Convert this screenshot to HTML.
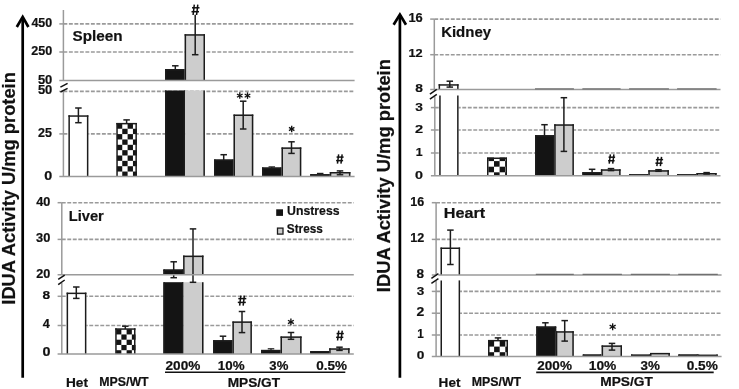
<!DOCTYPE html>
<html><head><meta charset="utf-8"><style>
html,body{margin:0;padding:0;background:#fff;}
body{width:739px;height:389px;overflow:hidden;}
svg{display:block;filter:grayscale(1);}
</style></head><body>
<svg width="739" height="389" viewBox="0 0 739 389">
<rect width="739" height="389" fill="#fff"/>
<line x1="63.40" y1="23.90" x2="354.60" y2="23.90" stroke="#9a9a9a" stroke-width="1.6" stroke-dasharray="3.9 1.6"/>
<line x1="63.40" y1="52.00" x2="354.60" y2="52.00" stroke="#9a9a9a" stroke-width="1.6" stroke-dasharray="3.9 1.6"/>
<line x1="63.40" y1="91.40" x2="354.60" y2="91.40" stroke="#9a9a9a" stroke-width="1.6" stroke-dasharray="3.9 1.6"/>
<line x1="63.40" y1="133.90" x2="354.60" y2="133.90" stroke="#9a9a9a" stroke-width="1.6" stroke-dasharray="3.9 1.6"/>
<line x1="61.80" y1="202.70" x2="353.80" y2="202.70" stroke="#9a9a9a" stroke-width="1.6" stroke-dasharray="3.9 1.6"/>
<line x1="61.80" y1="239.40" x2="353.80" y2="239.40" stroke="#9a9a9a" stroke-width="1.6" stroke-dasharray="3.9 1.6"/>
<line x1="61.80" y1="296.30" x2="353.80" y2="296.30" stroke="#9a9a9a" stroke-width="1.6" stroke-dasharray="3.9 1.6"/>
<line x1="61.80" y1="325.50" x2="353.80" y2="325.50" stroke="#9a9a9a" stroke-width="1.6" stroke-dasharray="3.9 1.6"/>
<line x1="434.30" y1="19.10" x2="720.50" y2="19.10" stroke="#9a9a9a" stroke-width="1.6" stroke-dasharray="3.9 1.6"/>
<line x1="434.30" y1="54.70" x2="720.50" y2="54.70" stroke="#9a9a9a" stroke-width="1.6" stroke-dasharray="3.9 1.6"/>
<line x1="434.80" y1="107.60" x2="720.50" y2="107.60" stroke="#9a9a9a" stroke-width="1.6" stroke-dasharray="3.9 1.6"/>
<line x1="434.80" y1="130.00" x2="720.50" y2="130.00" stroke="#9a9a9a" stroke-width="1.6" stroke-dasharray="3.9 1.6"/>
<line x1="434.80" y1="153.00" x2="720.50" y2="153.00" stroke="#9a9a9a" stroke-width="1.6" stroke-dasharray="3.9 1.6"/>
<line x1="436.10" y1="202.70" x2="721.60" y2="202.70" stroke="#9a9a9a" stroke-width="1.6" stroke-dasharray="3.9 1.6"/>
<line x1="436.10" y1="239.40" x2="721.60" y2="239.40" stroke="#9a9a9a" stroke-width="1.6" stroke-dasharray="3.9 1.6"/>
<line x1="436.10" y1="291.40" x2="721.60" y2="291.40" stroke="#9a9a9a" stroke-width="1.6" stroke-dasharray="3.9 1.6"/>
<line x1="436.10" y1="313.20" x2="721.60" y2="313.20" stroke="#9a9a9a" stroke-width="1.6" stroke-dasharray="3.9 1.6"/>
<line x1="436.10" y1="335.00" x2="721.60" y2="335.00" stroke="#9a9a9a" stroke-width="1.6" stroke-dasharray="3.9 1.6"/>
<rect x="68.40" y="115.30" width="20.00" height="61.20" fill="#fff"/>
<line x1="69.15" y1="176.50" x2="69.15" y2="115.30" stroke="#1c1c1c" stroke-width="1.5" />
<line x1="87.65" y1="176.50" x2="87.65" y2="115.30" stroke="#1c1c1c" stroke-width="1.5" />
<line x1="68.40" y1="116.05" x2="88.40" y2="116.05" stroke="#1c1c1c" stroke-width="1.5" />
<line x1="78.40" y1="108.00" x2="78.40" y2="122.70" stroke="#1c1c1c" stroke-width="1.5" />
<line x1="75.15" y1="108.00" x2="81.65" y2="108.00" stroke="#1c1c1c" stroke-width="1.5" />
<line x1="75.15" y1="122.70" x2="81.65" y2="122.70" stroke="#1c1c1c" stroke-width="1.5" />
<rect x="116.30" y="122.90" width="20.60" height="53.60" fill="#fff"/>
<svg x="116.30" y="122.90" width="20.60" height="53.60" overflow="hidden"><g fill="#141414">
<rect x="0.60" y="0.50" width="5.35" height="5.35"/>
<rect x="11.30" y="0.50" width="5.35" height="5.35"/>
<rect x="5.95" y="5.85" width="5.35" height="5.35"/>
<rect x="16.65" y="5.85" width="5.35" height="5.35"/>
<rect x="0.60" y="11.20" width="5.35" height="5.35"/>
<rect x="11.30" y="11.20" width="5.35" height="5.35"/>
<rect x="5.95" y="16.55" width="5.35" height="5.35"/>
<rect x="16.65" y="16.55" width="5.35" height="5.35"/>
<rect x="0.60" y="21.90" width="5.35" height="5.35"/>
<rect x="11.30" y="21.90" width="5.35" height="5.35"/>
<rect x="5.95" y="27.25" width="5.35" height="5.35"/>
<rect x="16.65" y="27.25" width="5.35" height="5.35"/>
<rect x="0.60" y="32.60" width="5.35" height="5.35"/>
<rect x="11.30" y="32.60" width="5.35" height="5.35"/>
<rect x="5.95" y="37.95" width="5.35" height="5.35"/>
<rect x="16.65" y="37.95" width="5.35" height="5.35"/>
<rect x="0.60" y="43.30" width="5.35" height="5.35"/>
<rect x="11.30" y="43.30" width="5.35" height="5.35"/>
<rect x="5.95" y="48.65" width="5.35" height="5.35"/>
<rect x="16.65" y="48.65" width="5.35" height="5.35"/>
</g></svg>
<line x1="117.05" y1="176.50" x2="117.05" y2="122.90" stroke="#1c1c1c" stroke-width="1.5" />
<line x1="136.15" y1="176.50" x2="136.15" y2="122.90" stroke="#1c1c1c" stroke-width="1.5" />
<line x1="116.30" y1="123.65" x2="136.90" y2="123.65" stroke="#1c1c1c" stroke-width="1.5" />
<line x1="126.60" y1="119.90" x2="126.60" y2="123.50" stroke="#1c1c1c" stroke-width="1.5" />
<line x1="123.35" y1="119.90" x2="129.85" y2="119.90" stroke="#1c1c1c" stroke-width="1.5" />
<rect x="165.00" y="90.50" width="20.10" height="86.00" fill="#141414"/>
<line x1="165.75" y1="176.50" x2="165.75" y2="90.50" stroke="#1c1c1c" stroke-width="1.5" />
<line x1="184.35" y1="176.50" x2="184.35" y2="90.50" stroke="#1c1c1c" stroke-width="1.5" />
<rect x="185.10" y="90.50" width="19.80" height="86.00" fill="#cdcdcf"/>
<line x1="204.15" y1="176.50" x2="204.15" y2="90.50" stroke="#1c1c1c" stroke-width="1.5" />
<rect x="165.00" y="69.00" width="20.20" height="11.50" fill="#141414"/>
<line x1="165.75" y1="80.50" x2="165.75" y2="69.00" stroke="#1c1c1c" stroke-width="1.5" />
<line x1="184.45" y1="80.50" x2="184.45" y2="69.00" stroke="#1c1c1c" stroke-width="1.5" />
<line x1="165.00" y1="69.75" x2="185.20" y2="69.75" stroke="#1c1c1c" stroke-width="1.5" />
<line x1="175.30" y1="65.80" x2="175.30" y2="69.50" stroke="#1c1c1c" stroke-width="1.5" />
<line x1="172.05" y1="65.80" x2="178.55" y2="65.80" stroke="#1c1c1c" stroke-width="1.5" />
<rect x="184.60" y="34.20" width="20.40" height="46.30" fill="#cdcdcf"/>
<line x1="185.35" y1="80.50" x2="185.35" y2="34.20" stroke="#1c1c1c" stroke-width="1.5" />
<line x1="204.25" y1="80.50" x2="204.25" y2="34.20" stroke="#1c1c1c" stroke-width="1.5" />
<line x1="184.60" y1="34.95" x2="205.00" y2="34.95" stroke="#1c1c1c" stroke-width="1.5" />
<line x1="195.20" y1="14.70" x2="195.20" y2="54.70" stroke="#1c1c1c" stroke-width="1.5" />
<line x1="191.95" y1="54.70" x2="198.45" y2="54.70" stroke="#1c1c1c" stroke-width="1.5" />
<line x1="194.30" y1="4.70" x2="193.10" y2="15.00" stroke="#111" stroke-width="1.5" />
<line x1="197.80" y1="4.70" x2="196.60" y2="15.00" stroke="#111" stroke-width="1.5" />
<line x1="192.00" y1="7.79" x2="199.50" y2="7.79" stroke="#111" stroke-width="1.5" />
<line x1="191.50" y1="11.70" x2="199.00" y2="11.70" stroke="#111" stroke-width="1.5" />
<rect x="214.10" y="159.50" width="19.90" height="17.00" fill="#141414"/>
<line x1="214.85" y1="176.50" x2="214.85" y2="159.50" stroke="#1c1c1c" stroke-width="1.5" />
<line x1="233.25" y1="176.50" x2="233.25" y2="159.50" stroke="#1c1c1c" stroke-width="1.5" />
<line x1="214.10" y1="160.25" x2="234.00" y2="160.25" stroke="#1c1c1c" stroke-width="1.5" />
<line x1="223.70" y1="154.70" x2="223.70" y2="160.00" stroke="#1c1c1c" stroke-width="1.5" />
<line x1="220.45" y1="154.70" x2="226.95" y2="154.70" stroke="#1c1c1c" stroke-width="1.5" />
<rect x="233.50" y="114.50" width="19.80" height="62.00" fill="#cdcdcf"/>
<line x1="234.25" y1="176.50" x2="234.25" y2="114.50" stroke="#1c1c1c" stroke-width="1.5" />
<line x1="252.55" y1="176.50" x2="252.55" y2="114.50" stroke="#1c1c1c" stroke-width="1.5" />
<line x1="233.50" y1="115.25" x2="253.30" y2="115.25" stroke="#1c1c1c" stroke-width="1.5" />
<line x1="243.20" y1="101.20" x2="243.20" y2="129.00" stroke="#1c1c1c" stroke-width="1.5" />
<line x1="239.95" y1="101.20" x2="246.45" y2="101.20" stroke="#1c1c1c" stroke-width="1.5" />
<line x1="239.95" y1="129.00" x2="246.45" y2="129.00" stroke="#1c1c1c" stroke-width="1.5" />
<line x1="239.80" y1="92.35" x2="239.80" y2="98.85" stroke="#111" stroke-width="1.35" />
<line x1="236.99" y1="93.98" x2="242.61" y2="97.22" stroke="#111" stroke-width="1.35" />
<line x1="242.61" y1="93.98" x2="236.99" y2="97.22" stroke="#111" stroke-width="1.35" />
<line x1="247.50" y1="92.35" x2="247.50" y2="98.85" stroke="#111" stroke-width="1.35" />
<line x1="244.69" y1="93.98" x2="250.31" y2="97.22" stroke="#111" stroke-width="1.35" />
<line x1="250.31" y1="93.98" x2="244.69" y2="97.22" stroke="#111" stroke-width="1.35" />
<rect x="262.00" y="167.50" width="19.80" height="9.00" fill="#141414"/>
<line x1="262.75" y1="176.50" x2="262.75" y2="167.50" stroke="#1c1c1c" stroke-width="1.5" />
<line x1="281.05" y1="176.50" x2="281.05" y2="167.50" stroke="#1c1c1c" stroke-width="1.5" />
<line x1="262.00" y1="168.25" x2="281.80" y2="168.25" stroke="#1c1c1c" stroke-width="1.5" />
<line x1="271.80" y1="166.90" x2="271.80" y2="168.00" stroke="#1c1c1c" stroke-width="1.2" />
<line x1="268.55" y1="166.90" x2="275.05" y2="166.90" stroke="#1c1c1c" stroke-width="1.2" />
<rect x="281.50" y="147.40" width="19.80" height="29.10" fill="#cdcdcf"/>
<line x1="282.25" y1="176.50" x2="282.25" y2="147.40" stroke="#1c1c1c" stroke-width="1.5" />
<line x1="300.55" y1="176.50" x2="300.55" y2="147.40" stroke="#1c1c1c" stroke-width="1.5" />
<line x1="281.50" y1="148.15" x2="301.30" y2="148.15" stroke="#1c1c1c" stroke-width="1.5" />
<line x1="291.50" y1="141.80" x2="291.50" y2="153.40" stroke="#1c1c1c" stroke-width="1.5" />
<line x1="288.25" y1="141.80" x2="294.75" y2="141.80" stroke="#1c1c1c" stroke-width="1.5" />
<line x1="288.25" y1="153.40" x2="294.75" y2="153.40" stroke="#1c1c1c" stroke-width="1.5" />
<line x1="291.70" y1="125.86" x2="291.70" y2="132.14" stroke="#111" stroke-width="1.35" />
<line x1="288.98" y1="127.43" x2="294.42" y2="130.57" stroke="#111" stroke-width="1.35" />
<line x1="294.42" y1="127.43" x2="288.98" y2="130.57" stroke="#111" stroke-width="1.35" />
<rect x="310.30" y="174.20" width="19.90" height="2.30" fill="#141414"/>
<line x1="311.05" y1="176.50" x2="311.05" y2="174.20" stroke="#1c1c1c" stroke-width="1.5" />
<line x1="329.45" y1="176.50" x2="329.45" y2="174.20" stroke="#1c1c1c" stroke-width="1.5" />
<line x1="310.30" y1="174.95" x2="330.20" y2="174.95" stroke="#1c1c1c" stroke-width="1.5" />
<line x1="320.20" y1="173.40" x2="320.20" y2="174.50" stroke="#1c1c1c" stroke-width="1.2" />
<line x1="316.95" y1="173.40" x2="323.45" y2="173.40" stroke="#1c1c1c" stroke-width="1.2" />
<rect x="329.80" y="172.00" width="20.60" height="4.50" fill="#cdcdcf"/>
<line x1="330.55" y1="176.50" x2="330.55" y2="172.00" stroke="#1c1c1c" stroke-width="1.5" />
<line x1="349.65" y1="176.50" x2="349.65" y2="172.00" stroke="#1c1c1c" stroke-width="1.5" />
<line x1="329.80" y1="172.75" x2="350.40" y2="172.75" stroke="#1c1c1c" stroke-width="1.5" />
<line x1="340.00" y1="170.90" x2="340.00" y2="174.80" stroke="#1c1c1c" stroke-width="1.5" />
<line x1="336.75" y1="170.90" x2="343.25" y2="170.90" stroke="#1c1c1c" stroke-width="1.5" />
<line x1="336.75" y1="174.80" x2="343.25" y2="174.80" stroke="#1c1c1c" stroke-width="1.5" />
<line x1="338.65" y1="154.30" x2="337.45" y2="163.60" stroke="#111" stroke-width="1.5" />
<line x1="342.15" y1="154.30" x2="340.95" y2="163.60" stroke="#111" stroke-width="1.5" />
<line x1="336.60" y1="157.09" x2="343.60" y2="157.09" stroke="#111" stroke-width="1.5" />
<line x1="336.10" y1="160.62" x2="343.10" y2="160.62" stroke="#111" stroke-width="1.5" />
<rect x="66.60" y="292.60" width="19.80" height="61.40" fill="#fff"/>
<line x1="67.35" y1="354.00" x2="67.35" y2="292.60" stroke="#1c1c1c" stroke-width="1.5" />
<line x1="85.65" y1="354.00" x2="85.65" y2="292.60" stroke="#1c1c1c" stroke-width="1.5" />
<line x1="66.60" y1="293.35" x2="86.40" y2="293.35" stroke="#1c1c1c" stroke-width="1.5" />
<line x1="76.30" y1="287.00" x2="76.30" y2="298.40" stroke="#1c1c1c" stroke-width="1.5" />
<line x1="73.05" y1="287.00" x2="79.55" y2="287.00" stroke="#1c1c1c" stroke-width="1.5" />
<line x1="73.05" y1="298.40" x2="79.55" y2="298.40" stroke="#1c1c1c" stroke-width="1.5" />
<rect x="115.20" y="328.30" width="20.30" height="25.70" fill="#fff"/>
<svg x="115.20" y="328.30" width="20.30" height="25.70" overflow="hidden"><g fill="#141414">
<rect x="0.90" y="0.90" width="5.25" height="5.25"/>
<rect x="11.40" y="0.90" width="5.25" height="5.25"/>
<rect x="6.15" y="6.15" width="5.25" height="5.25"/>
<rect x="16.65" y="6.15" width="5.25" height="5.25"/>
<rect x="0.90" y="11.40" width="5.25" height="5.25"/>
<rect x="11.40" y="11.40" width="5.25" height="5.25"/>
<rect x="6.15" y="16.65" width="5.25" height="5.25"/>
<rect x="16.65" y="16.65" width="5.25" height="5.25"/>
<rect x="0.90" y="21.90" width="5.25" height="5.25"/>
<rect x="11.40" y="21.90" width="5.25" height="5.25"/>
</g></svg>
<line x1="115.95" y1="354.00" x2="115.95" y2="328.30" stroke="#1c1c1c" stroke-width="1.5" />
<line x1="134.75" y1="354.00" x2="134.75" y2="328.30" stroke="#1c1c1c" stroke-width="1.5" />
<line x1="115.20" y1="329.05" x2="135.50" y2="329.05" stroke="#1c1c1c" stroke-width="1.5" />
<line x1="125.30" y1="326.20" x2="125.30" y2="329.00" stroke="#1c1c1c" stroke-width="1.5" />
<line x1="122.05" y1="326.20" x2="128.55" y2="326.20" stroke="#1c1c1c" stroke-width="1.5" />
<rect x="163.40" y="282.20" width="20.10" height="71.80" fill="#141414"/>
<line x1="164.15" y1="354.00" x2="164.15" y2="282.20" stroke="#1c1c1c" stroke-width="1.5" />
<line x1="182.75" y1="354.00" x2="182.75" y2="282.20" stroke="#1c1c1c" stroke-width="1.5" />
<rect x="183.50" y="282.20" width="20.00" height="71.80" fill="#cdcdcf"/>
<line x1="202.75" y1="354.00" x2="202.75" y2="282.20" stroke="#1c1c1c" stroke-width="1.5" />
<rect x="163.40" y="269.50" width="20.20" height="5.30" fill="#141414"/>
<line x1="164.15" y1="274.80" x2="164.15" y2="269.50" stroke="#1c1c1c" stroke-width="1.5" />
<line x1="182.85" y1="274.80" x2="182.85" y2="269.50" stroke="#1c1c1c" stroke-width="1.5" />
<line x1="163.40" y1="270.25" x2="183.60" y2="270.25" stroke="#1c1c1c" stroke-width="1.5" />
<line x1="173.70" y1="261.80" x2="173.70" y2="277.70" stroke="#1c1c1c" stroke-width="1.5" />
<line x1="170.45" y1="261.80" x2="176.95" y2="261.80" stroke="#1c1c1c" stroke-width="1.5" />
<line x1="170.45" y1="277.70" x2="176.95" y2="277.70" stroke="#1c1c1c" stroke-width="1.5" />
<rect x="183.10" y="255.60" width="20.40" height="19.20" fill="#cdcdcf"/>
<line x1="183.85" y1="274.80" x2="183.85" y2="255.60" stroke="#1c1c1c" stroke-width="1.5" />
<line x1="202.75" y1="274.80" x2="202.75" y2="255.60" stroke="#1c1c1c" stroke-width="1.5" />
<line x1="183.10" y1="256.35" x2="203.50" y2="256.35" stroke="#1c1c1c" stroke-width="1.5" />
<line x1="193.00" y1="228.90" x2="193.00" y2="282.30" stroke="#1c1c1c" stroke-width="1.5" />
<line x1="189.75" y1="228.90" x2="196.25" y2="228.90" stroke="#1c1c1c" stroke-width="1.5" />
<line x1="189.75" y1="282.30" x2="196.25" y2="282.30" stroke="#1c1c1c" stroke-width="1.5" />
<rect x="213.10" y="340.20" width="19.70" height="13.80" fill="#141414"/>
<line x1="213.85" y1="354.00" x2="213.85" y2="340.20" stroke="#1c1c1c" stroke-width="1.5" />
<line x1="232.05" y1="354.00" x2="232.05" y2="340.20" stroke="#1c1c1c" stroke-width="1.5" />
<line x1="213.10" y1="340.95" x2="232.80" y2="340.95" stroke="#1c1c1c" stroke-width="1.5" />
<line x1="223.00" y1="336.20" x2="223.00" y2="341.00" stroke="#1c1c1c" stroke-width="1.5" />
<line x1="219.75" y1="336.20" x2="226.25" y2="336.20" stroke="#1c1c1c" stroke-width="1.5" />
<rect x="232.40" y="321.40" width="19.50" height="32.60" fill="#cdcdcf"/>
<line x1="233.15" y1="354.00" x2="233.15" y2="321.40" stroke="#1c1c1c" stroke-width="1.5" />
<line x1="251.15" y1="354.00" x2="251.15" y2="321.40" stroke="#1c1c1c" stroke-width="1.5" />
<line x1="232.40" y1="322.15" x2="251.90" y2="322.15" stroke="#1c1c1c" stroke-width="1.5" />
<line x1="242.00" y1="311.50" x2="242.00" y2="332.60" stroke="#1c1c1c" stroke-width="1.5" />
<line x1="238.75" y1="311.50" x2="245.25" y2="311.50" stroke="#1c1c1c" stroke-width="1.5" />
<line x1="238.75" y1="332.60" x2="245.25" y2="332.60" stroke="#1c1c1c" stroke-width="1.5" />
<line x1="240.85" y1="295.60" x2="239.65" y2="305.60" stroke="#111" stroke-width="1.5" />
<line x1="244.35" y1="295.60" x2="243.15" y2="305.60" stroke="#111" stroke-width="1.5" />
<line x1="238.30" y1="298.60" x2="246.30" y2="298.60" stroke="#111" stroke-width="1.5" />
<line x1="237.80" y1="302.40" x2="245.80" y2="302.40" stroke="#111" stroke-width="1.5" />
<rect x="261.00" y="349.90" width="19.90" height="4.10" fill="#141414"/>
<line x1="261.75" y1="354.00" x2="261.75" y2="349.90" stroke="#1c1c1c" stroke-width="1.5" />
<line x1="280.15" y1="354.00" x2="280.15" y2="349.90" stroke="#1c1c1c" stroke-width="1.5" />
<line x1="261.00" y1="350.65" x2="280.90" y2="350.65" stroke="#1c1c1c" stroke-width="1.5" />
<line x1="271.00" y1="348.80" x2="271.00" y2="350.20" stroke="#1c1c1c" stroke-width="1.2" />
<line x1="267.75" y1="348.80" x2="274.25" y2="348.80" stroke="#1c1c1c" stroke-width="1.2" />
<rect x="280.50" y="336.40" width="21.10" height="17.60" fill="#cdcdcf"/>
<line x1="281.25" y1="354.00" x2="281.25" y2="336.40" stroke="#1c1c1c" stroke-width="1.5" />
<line x1="300.85" y1="354.00" x2="300.85" y2="336.40" stroke="#1c1c1c" stroke-width="1.5" />
<line x1="280.50" y1="337.15" x2="301.60" y2="337.15" stroke="#1c1c1c" stroke-width="1.5" />
<line x1="291.00" y1="332.50" x2="291.00" y2="339.30" stroke="#1c1c1c" stroke-width="1.5" />
<line x1="287.75" y1="332.50" x2="294.25" y2="332.50" stroke="#1c1c1c" stroke-width="1.5" />
<line x1="287.75" y1="339.30" x2="294.25" y2="339.30" stroke="#1c1c1c" stroke-width="1.5" />
<line x1="290.90" y1="318.54" x2="290.90" y2="325.26" stroke="#111" stroke-width="1.35" />
<line x1="287.99" y1="320.22" x2="293.81" y2="323.58" stroke="#111" stroke-width="1.35" />
<line x1="293.81" y1="320.22" x2="287.99" y2="323.58" stroke="#111" stroke-width="1.35" />
<rect x="310.30" y="351.10" width="19.30" height="2.90" fill="#141414"/>
<line x1="311.05" y1="354.00" x2="311.05" y2="351.10" stroke="#1c1c1c" stroke-width="1.5" />
<line x1="328.85" y1="354.00" x2="328.85" y2="351.10" stroke="#1c1c1c" stroke-width="1.5" />
<line x1="310.30" y1="351.85" x2="329.60" y2="351.85" stroke="#1c1c1c" stroke-width="1.5" />
<rect x="329.20" y="348.30" width="20.40" height="5.70" fill="#cdcdcf"/>
<line x1="329.95" y1="354.00" x2="329.95" y2="348.30" stroke="#1c1c1c" stroke-width="1.5" />
<line x1="348.85" y1="354.00" x2="348.85" y2="348.30" stroke="#1c1c1c" stroke-width="1.5" />
<line x1="329.20" y1="349.05" x2="349.60" y2="349.05" stroke="#1c1c1c" stroke-width="1.5" />
<line x1="339.50" y1="347.20" x2="339.50" y2="350.40" stroke="#1c1c1c" stroke-width="1.5" />
<line x1="336.25" y1="347.20" x2="342.75" y2="347.20" stroke="#1c1c1c" stroke-width="1.5" />
<line x1="336.25" y1="350.40" x2="342.75" y2="350.40" stroke="#1c1c1c" stroke-width="1.5" />
<line x1="338.75" y1="330.60" x2="337.55" y2="340.50" stroke="#111" stroke-width="1.5" />
<line x1="342.25" y1="330.60" x2="341.05" y2="340.50" stroke="#111" stroke-width="1.5" />
<line x1="336.60" y1="333.57" x2="343.80" y2="333.57" stroke="#111" stroke-width="1.5" />
<line x1="336.10" y1="337.33" x2="343.30" y2="337.33" stroke="#111" stroke-width="1.5" />
<rect x="276.2" y="209.3" width="6.8" height="6.6" fill="#141414"/>
<rect x="277.5" y="228.1" width="5.5" height="6.0" fill="#cdcdcf" stroke="#1c1c1c" stroke-width="1.3"/>
<line x1="165.00" y1="372.30" x2="345.30" y2="372.30" stroke="#111" stroke-width="1.6" />
<rect x="438.60" y="84.20" width="20.00" height="5.40" fill="#fff"/>
<line x1="439.35" y1="89.60" x2="439.35" y2="84.20" stroke="#1c1c1c" stroke-width="1.5" />
<line x1="457.85" y1="89.60" x2="457.85" y2="84.20" stroke="#1c1c1c" stroke-width="1.5" />
<line x1="438.60" y1="84.95" x2="458.60" y2="84.95" stroke="#1c1c1c" stroke-width="1.5" />
<line x1="449.80" y1="81.20" x2="449.80" y2="87.10" stroke="#1c1c1c" stroke-width="1.5" />
<line x1="446.55" y1="81.20" x2="453.05" y2="81.20" stroke="#1c1c1c" stroke-width="1.5" />
<line x1="446.55" y1="87.10" x2="453.05" y2="87.10" stroke="#1c1c1c" stroke-width="1.5" />
<rect x="439.20" y="95.40" width="19.40" height="80.40" fill="#fff"/>
<line x1="439.95" y1="175.80" x2="439.95" y2="95.40" stroke="#1c1c1c" stroke-width="1.5" />
<line x1="457.85" y1="175.80" x2="457.85" y2="95.40" stroke="#1c1c1c" stroke-width="1.5" />
<rect x="487.00" y="157.50" width="20.00" height="18.30" fill="#fff"/>
<svg x="487.00" y="157.50" width="20.00" height="18.30" overflow="hidden"><g fill="#141414">
<rect x="1.40" y="-2.00" width="5.60" height="5.60"/>
<rect x="12.60" y="-2.00" width="5.60" height="5.60"/>
<rect x="7.00" y="3.60" width="5.60" height="5.60"/>
<rect x="18.20" y="3.60" width="5.60" height="5.60"/>
<rect x="1.40" y="9.20" width="5.60" height="5.60"/>
<rect x="12.60" y="9.20" width="5.60" height="5.60"/>
<rect x="7.00" y="14.80" width="5.60" height="5.60"/>
<rect x="18.20" y="14.80" width="5.60" height="5.60"/>
</g></svg>
<line x1="487.75" y1="175.80" x2="487.75" y2="157.50" stroke="#1c1c1c" stroke-width="1.5" />
<line x1="506.25" y1="175.80" x2="506.25" y2="157.50" stroke="#1c1c1c" stroke-width="1.5" />
<line x1="487.00" y1="158.25" x2="507.00" y2="158.25" stroke="#1c1c1c" stroke-width="1.5" />
<rect x="535.00" y="135.20" width="19.70" height="40.60" fill="#141414"/>
<line x1="535.75" y1="175.80" x2="535.75" y2="135.20" stroke="#1c1c1c" stroke-width="1.5" />
<line x1="553.95" y1="175.80" x2="553.95" y2="135.20" stroke="#1c1c1c" stroke-width="1.5" />
<line x1="535.00" y1="135.95" x2="554.70" y2="135.95" stroke="#1c1c1c" stroke-width="1.5" />
<line x1="544.50" y1="124.70" x2="544.50" y2="136.00" stroke="#1c1c1c" stroke-width="1.5" />
<line x1="541.25" y1="124.70" x2="547.75" y2="124.70" stroke="#1c1c1c" stroke-width="1.5" />
<rect x="554.20" y="124.30" width="19.70" height="51.50" fill="#cdcdcf"/>
<line x1="554.95" y1="175.80" x2="554.95" y2="124.30" stroke="#1c1c1c" stroke-width="1.5" />
<line x1="573.15" y1="175.80" x2="573.15" y2="124.30" stroke="#1c1c1c" stroke-width="1.5" />
<line x1="554.20" y1="125.05" x2="573.90" y2="125.05" stroke="#1c1c1c" stroke-width="1.5" />
<line x1="563.90" y1="97.70" x2="563.90" y2="151.40" stroke="#1c1c1c" stroke-width="1.5" />
<line x1="560.65" y1="97.70" x2="567.15" y2="97.70" stroke="#1c1c1c" stroke-width="1.5" />
<line x1="560.65" y1="151.40" x2="567.15" y2="151.40" stroke="#1c1c1c" stroke-width="1.5" />
<rect x="582.40" y="172.20" width="18.90" height="3.60" fill="#141414"/>
<line x1="583.15" y1="175.80" x2="583.15" y2="172.20" stroke="#1c1c1c" stroke-width="1.5" />
<line x1="600.55" y1="175.80" x2="600.55" y2="172.20" stroke="#1c1c1c" stroke-width="1.5" />
<line x1="582.40" y1="172.95" x2="601.30" y2="172.95" stroke="#1c1c1c" stroke-width="1.5" />
<line x1="592.10" y1="169.30" x2="592.10" y2="172.50" stroke="#1c1c1c" stroke-width="1.5" />
<line x1="588.85" y1="169.30" x2="595.35" y2="169.30" stroke="#1c1c1c" stroke-width="1.5" />
<rect x="600.90" y="169.30" width="19.70" height="6.50" fill="#cdcdcf"/>
<line x1="601.65" y1="175.80" x2="601.65" y2="169.30" stroke="#1c1c1c" stroke-width="1.5" />
<line x1="619.85" y1="175.80" x2="619.85" y2="169.30" stroke="#1c1c1c" stroke-width="1.5" />
<line x1="600.90" y1="170.05" x2="620.60" y2="170.05" stroke="#1c1c1c" stroke-width="1.5" />
<line x1="611.00" y1="168.60" x2="611.00" y2="170.60" stroke="#1c1c1c" stroke-width="1.5" />
<line x1="607.75" y1="168.60" x2="614.25" y2="168.60" stroke="#1c1c1c" stroke-width="1.5" />
<line x1="607.75" y1="170.60" x2="614.25" y2="170.60" stroke="#1c1c1c" stroke-width="1.5" />
<line x1="610.40" y1="154.40" x2="609.20" y2="163.70" stroke="#111" stroke-width="1.5" />
<line x1="613.90" y1="154.40" x2="612.70" y2="163.70" stroke="#111" stroke-width="1.5" />
<line x1="608.60" y1="157.19" x2="615.10" y2="157.19" stroke="#111" stroke-width="1.5" />
<line x1="608.10" y1="160.72" x2="614.60" y2="160.72" stroke="#111" stroke-width="1.5" />
<rect x="629.10" y="174.30" width="19.60" height="1.50" fill="#141414"/>
<line x1="629.85" y1="175.80" x2="629.85" y2="174.30" stroke="#1c1c1c" stroke-width="1.5" />
<line x1="647.95" y1="175.80" x2="647.95" y2="174.30" stroke="#1c1c1c" stroke-width="1.5" />
<line x1="629.10" y1="175.05" x2="648.70" y2="175.05" stroke="#1c1c1c" stroke-width="1.5" />
<rect x="648.30" y="170.20" width="20.60" height="5.60" fill="#cdcdcf"/>
<line x1="649.05" y1="175.80" x2="649.05" y2="170.20" stroke="#1c1c1c" stroke-width="1.5" />
<line x1="668.15" y1="175.80" x2="668.15" y2="170.20" stroke="#1c1c1c" stroke-width="1.5" />
<line x1="648.30" y1="170.95" x2="668.90" y2="170.95" stroke="#1c1c1c" stroke-width="1.5" />
<line x1="658.50" y1="169.70" x2="658.50" y2="171.30" stroke="#1c1c1c" stroke-width="1.5" />
<line x1="655.25" y1="169.70" x2="661.75" y2="169.70" stroke="#1c1c1c" stroke-width="1.5" />
<line x1="655.25" y1="171.30" x2="661.75" y2="171.30" stroke="#1c1c1c" stroke-width="1.5" />
<line x1="658.05" y1="156.80" x2="656.85" y2="166.20" stroke="#111" stroke-width="1.5" />
<line x1="661.55" y1="156.80" x2="660.35" y2="166.20" stroke="#111" stroke-width="1.5" />
<line x1="655.90" y1="159.62" x2="663.10" y2="159.62" stroke="#111" stroke-width="1.5" />
<line x1="655.40" y1="163.19" x2="662.60" y2="163.19" stroke="#111" stroke-width="1.5" />
<rect x="677.10" y="174.30" width="19.80" height="1.50" fill="#141414"/>
<line x1="677.85" y1="175.80" x2="677.85" y2="174.30" stroke="#1c1c1c" stroke-width="1.5" />
<line x1="696.15" y1="175.80" x2="696.15" y2="174.30" stroke="#1c1c1c" stroke-width="1.5" />
<line x1="677.10" y1="175.05" x2="696.90" y2="175.05" stroke="#1c1c1c" stroke-width="1.5" />
<rect x="696.50" y="173.00" width="20.10" height="2.80" fill="#cdcdcf"/>
<line x1="697.25" y1="175.80" x2="697.25" y2="173.00" stroke="#1c1c1c" stroke-width="1.5" />
<line x1="715.85" y1="175.80" x2="715.85" y2="173.00" stroke="#1c1c1c" stroke-width="1.5" />
<line x1="696.50" y1="173.75" x2="716.60" y2="173.75" stroke="#1c1c1c" stroke-width="1.5" />
<line x1="706.60" y1="172.60" x2="706.60" y2="174.00" stroke="#1c1c1c" stroke-width="1.5" />
<line x1="703.35" y1="172.60" x2="709.85" y2="172.60" stroke="#1c1c1c" stroke-width="1.5" />
<line x1="703.35" y1="174.00" x2="709.85" y2="174.00" stroke="#1c1c1c" stroke-width="1.5" />
<rect x="440.50" y="247.50" width="19.60" height="27.50" fill="#fff"/>
<line x1="441.25" y1="275.00" x2="441.25" y2="247.50" stroke="#1c1c1c" stroke-width="1.5" />
<line x1="459.35" y1="275.00" x2="459.35" y2="247.50" stroke="#1c1c1c" stroke-width="1.5" />
<line x1="440.50" y1="248.25" x2="460.10" y2="248.25" stroke="#1c1c1c" stroke-width="1.5" />
<line x1="450.40" y1="230.10" x2="450.40" y2="264.50" stroke="#1c1c1c" stroke-width="1.5" />
<line x1="447.15" y1="230.10" x2="453.65" y2="230.10" stroke="#1c1c1c" stroke-width="1.5" />
<line x1="447.15" y1="264.50" x2="453.65" y2="264.50" stroke="#1c1c1c" stroke-width="1.5" />
<rect x="440.50" y="280.40" width="19.60" height="76.10" fill="#fff"/>
<line x1="441.25" y1="356.50" x2="441.25" y2="280.40" stroke="#1c1c1c" stroke-width="1.5" />
<line x1="459.35" y1="356.50" x2="459.35" y2="280.40" stroke="#1c1c1c" stroke-width="1.5" />
<rect x="488.00" y="339.90" width="20.00" height="16.60" fill="#fff"/>
<svg x="488.00" y="339.90" width="20.00" height="16.60" overflow="hidden"><g fill="#141414">
<rect x="0.50" y="1.10" width="5.60" height="5.60"/>
<rect x="11.70" y="1.10" width="5.60" height="5.60"/>
<rect x="6.10" y="6.70" width="5.60" height="5.60"/>
<rect x="17.30" y="6.70" width="5.60" height="5.60"/>
<rect x="0.50" y="12.30" width="5.60" height="5.60"/>
<rect x="11.70" y="12.30" width="5.60" height="5.60"/>
</g></svg>
<line x1="488.75" y1="356.50" x2="488.75" y2="339.90" stroke="#1c1c1c" stroke-width="1.5" />
<line x1="507.25" y1="356.50" x2="507.25" y2="339.90" stroke="#1c1c1c" stroke-width="1.5" />
<line x1="488.00" y1="340.65" x2="508.00" y2="340.65" stroke="#1c1c1c" stroke-width="1.5" />
<line x1="498.00" y1="337.90" x2="498.00" y2="340.50" stroke="#1c1c1c" stroke-width="1.5" />
<line x1="494.75" y1="337.90" x2="501.25" y2="337.90" stroke="#1c1c1c" stroke-width="1.5" />
<rect x="536.30" y="326.50" width="19.90" height="30.00" fill="#141414"/>
<line x1="537.05" y1="356.50" x2="537.05" y2="326.50" stroke="#1c1c1c" stroke-width="1.5" />
<line x1="555.45" y1="356.50" x2="555.45" y2="326.50" stroke="#1c1c1c" stroke-width="1.5" />
<line x1="536.30" y1="327.25" x2="556.20" y2="327.25" stroke="#1c1c1c" stroke-width="1.5" />
<line x1="545.40" y1="322.80" x2="545.40" y2="327.00" stroke="#1c1c1c" stroke-width="1.5" />
<line x1="542.15" y1="322.80" x2="548.65" y2="322.80" stroke="#1c1c1c" stroke-width="1.5" />
<rect x="555.80" y="331.20" width="18.00" height="25.30" fill="#cdcdcf"/>
<line x1="556.55" y1="356.50" x2="556.55" y2="331.20" stroke="#1c1c1c" stroke-width="1.5" />
<line x1="573.05" y1="356.50" x2="573.05" y2="331.20" stroke="#1c1c1c" stroke-width="1.5" />
<line x1="555.80" y1="331.95" x2="573.80" y2="331.95" stroke="#1c1c1c" stroke-width="1.5" />
<line x1="564.70" y1="320.60" x2="564.70" y2="341.10" stroke="#1c1c1c" stroke-width="1.5" />
<line x1="561.45" y1="320.60" x2="567.95" y2="320.60" stroke="#1c1c1c" stroke-width="1.5" />
<line x1="561.45" y1="341.10" x2="567.95" y2="341.10" stroke="#1c1c1c" stroke-width="1.5" />
<rect x="582.80" y="354.50" width="18.60" height="2.00" fill="#141414"/>
<line x1="583.55" y1="356.50" x2="583.55" y2="354.50" stroke="#1c1c1c" stroke-width="1.5" />
<line x1="600.65" y1="356.50" x2="600.65" y2="354.50" stroke="#1c1c1c" stroke-width="1.5" />
<line x1="582.80" y1="355.25" x2="601.40" y2="355.25" stroke="#1c1c1c" stroke-width="1.5" />
<rect x="601.60" y="345.40" width="20.40" height="11.10" fill="#cdcdcf"/>
<line x1="602.35" y1="356.50" x2="602.35" y2="345.40" stroke="#1c1c1c" stroke-width="1.5" />
<line x1="621.25" y1="356.50" x2="621.25" y2="345.40" stroke="#1c1c1c" stroke-width="1.5" />
<line x1="601.60" y1="346.15" x2="622.00" y2="346.15" stroke="#1c1c1c" stroke-width="1.5" />
<line x1="612.00" y1="343.40" x2="612.00" y2="350.10" stroke="#1c1c1c" stroke-width="1.5" />
<line x1="608.75" y1="343.40" x2="615.25" y2="343.40" stroke="#1c1c1c" stroke-width="1.5" />
<line x1="608.75" y1="350.10" x2="615.25" y2="350.10" stroke="#1c1c1c" stroke-width="1.5" />
<line x1="612.65" y1="323.33" x2="612.65" y2="330.27" stroke="#111" stroke-width="1.35" />
<line x1="609.64" y1="325.06" x2="615.66" y2="328.54" stroke="#111" stroke-width="1.35" />
<line x1="615.66" y1="325.06" x2="609.64" y2="328.54" stroke="#111" stroke-width="1.35" />
<rect x="631.00" y="354.60" width="19.40" height="1.90" fill="#141414"/>
<line x1="631.75" y1="356.50" x2="631.75" y2="354.60" stroke="#1c1c1c" stroke-width="1.5" />
<line x1="649.65" y1="356.50" x2="649.65" y2="354.60" stroke="#1c1c1c" stroke-width="1.5" />
<line x1="631.00" y1="355.35" x2="650.40" y2="355.35" stroke="#1c1c1c" stroke-width="1.5" />
<rect x="650.00" y="352.90" width="19.90" height="3.60" fill="#cdcdcf"/>
<line x1="650.75" y1="356.50" x2="650.75" y2="352.90" stroke="#1c1c1c" stroke-width="1.5" />
<line x1="669.15" y1="356.50" x2="669.15" y2="352.90" stroke="#1c1c1c" stroke-width="1.5" />
<line x1="650.00" y1="353.65" x2="669.90" y2="353.65" stroke="#1c1c1c" stroke-width="1.5" />
<rect x="678.40" y="354.50" width="19.80" height="2.00" fill="#141414"/>
<line x1="679.15" y1="356.50" x2="679.15" y2="354.50" stroke="#1c1c1c" stroke-width="1.5" />
<line x1="697.45" y1="356.50" x2="697.45" y2="354.50" stroke="#1c1c1c" stroke-width="1.5" />
<line x1="678.40" y1="355.25" x2="698.20" y2="355.25" stroke="#1c1c1c" stroke-width="1.5" />
<rect x="697.80" y="354.60" width="20.00" height="1.90" fill="#cdcdcf"/>
<line x1="698.55" y1="356.50" x2="698.55" y2="354.60" stroke="#1c1c1c" stroke-width="1.5" />
<line x1="717.05" y1="356.50" x2="717.05" y2="354.60" stroke="#1c1c1c" stroke-width="1.5" />
<line x1="697.80" y1="355.35" x2="717.80" y2="355.35" stroke="#1c1c1c" stroke-width="1.5" />
<line x1="536.20" y1="372.40" x2="713.70" y2="372.40" stroke="#111" stroke-width="1.6" />
<line x1="63.40" y1="10.00" x2="63.40" y2="80.50" stroke="#9a9a9a" stroke-width="1.5" />
<line x1="59.30" y1="23.90" x2="63.40" y2="23.90" stroke="#9a9a9a" stroke-width="1.5" />
<line x1="59.30" y1="52.00" x2="63.40" y2="52.00" stroke="#9a9a9a" stroke-width="1.5" />
<line x1="59.30" y1="80.50" x2="354.60" y2="80.50" stroke="#9a9a9a" stroke-width="1.5" />
<line x1="63.40" y1="91.60" x2="63.40" y2="176.50" stroke="#9a9a9a" stroke-width="1.5" />
<line x1="59.30" y1="91.40" x2="63.40" y2="91.40" stroke="#9a9a9a" stroke-width="1.5" />
<line x1="59.30" y1="133.90" x2="63.40" y2="133.90" stroke="#9a9a9a" stroke-width="1.5" />
<line x1="59.30" y1="176.50" x2="354.60" y2="176.50" stroke="#9a9a9a" stroke-width="1.5" />
<line x1="61.80" y1="202.70" x2="61.80" y2="274.80" stroke="#9a9a9a" stroke-width="1.5" />
<line x1="57.60" y1="202.70" x2="61.80" y2="202.70" stroke="#9a9a9a" stroke-width="1.5" />
<line x1="57.60" y1="239.40" x2="61.80" y2="239.40" stroke="#9a9a9a" stroke-width="1.5" />
<line x1="57.60" y1="274.80" x2="353.80" y2="274.80" stroke="#9a9a9a" stroke-width="1.5" />
<line x1="61.80" y1="283.00" x2="61.80" y2="354.00" stroke="#9a9a9a" stroke-width="1.5" />
<line x1="57.60" y1="296.30" x2="61.80" y2="296.30" stroke="#9a9a9a" stroke-width="1.5" />
<line x1="57.60" y1="325.50" x2="61.80" y2="325.50" stroke="#9a9a9a" stroke-width="1.5" />
<line x1="57.60" y1="354.00" x2="353.80" y2="354.00" stroke="#9a9a9a" stroke-width="1.5" />
<line x1="434.30" y1="19.10" x2="434.30" y2="89.60" stroke="#9a9a9a" stroke-width="1.5" />
<line x1="430.20" y1="19.10" x2="434.30" y2="19.10" stroke="#9a9a9a" stroke-width="1.5" />
<line x1="430.20" y1="54.70" x2="434.30" y2="54.70" stroke="#9a9a9a" stroke-width="1.5" />
<line x1="430.20" y1="89.60" x2="720.50" y2="89.60" stroke="#9a9a9a" stroke-width="1.5" />
<line x1="434.80" y1="96.50" x2="434.80" y2="175.80" stroke="#9a9a9a" stroke-width="1.5" />
<line x1="430.90" y1="107.60" x2="434.80" y2="107.60" stroke="#9a9a9a" stroke-width="1.5" />
<line x1="430.90" y1="130.00" x2="434.80" y2="130.00" stroke="#9a9a9a" stroke-width="1.5" />
<line x1="430.90" y1="153.00" x2="434.80" y2="153.00" stroke="#9a9a9a" stroke-width="1.5" />
<line x1="430.90" y1="175.80" x2="720.50" y2="175.80" stroke="#9a9a9a" stroke-width="1.5" />
<line x1="535.00" y1="88.90" x2="573.90" y2="88.90" stroke="#707070" stroke-width="1.2" />
<line x1="582.40" y1="88.90" x2="620.60" y2="88.90" stroke="#707070" stroke-width="1.2" />
<line x1="629.10" y1="88.90" x2="668.90" y2="88.90" stroke="#707070" stroke-width="1.2" />
<line x1="677.10" y1="88.90" x2="716.60" y2="88.90" stroke="#707070" stroke-width="1.2" />
<line x1="436.10" y1="202.70" x2="436.10" y2="275.00" stroke="#9a9a9a" stroke-width="1.5" />
<line x1="431.80" y1="202.70" x2="436.10" y2="202.70" stroke="#9a9a9a" stroke-width="1.5" />
<line x1="431.80" y1="239.40" x2="436.10" y2="239.40" stroke="#9a9a9a" stroke-width="1.5" />
<line x1="431.80" y1="275.00" x2="721.60" y2="275.00" stroke="#9a9a9a" stroke-width="1.5" />
<line x1="436.10" y1="281.00" x2="436.10" y2="356.50" stroke="#9a9a9a" stroke-width="1.5" />
<line x1="431.80" y1="291.40" x2="436.10" y2="291.40" stroke="#9a9a9a" stroke-width="1.5" />
<line x1="431.80" y1="313.20" x2="436.10" y2="313.20" stroke="#9a9a9a" stroke-width="1.5" />
<line x1="431.80" y1="335.00" x2="436.10" y2="335.00" stroke="#9a9a9a" stroke-width="1.5" />
<line x1="431.80" y1="356.50" x2="721.60" y2="356.50" stroke="#9a9a9a" stroke-width="1.5" />
<line x1="535.80" y1="274.40" x2="573.80" y2="274.40" stroke="#707070" stroke-width="1.2" />
<line x1="582.60" y1="274.40" x2="621.90" y2="274.40" stroke="#707070" stroke-width="1.2" />
<line x1="630.80" y1="274.40" x2="669.90" y2="274.40" stroke="#707070" stroke-width="1.2" />
<line x1="678.20" y1="274.40" x2="717.80" y2="274.40" stroke="#707070" stroke-width="1.2" />
<polyline points="16.80,27.00 22.70,16.90 28.40,27.00" fill="none" stroke="#000" stroke-width="2.7" stroke-linejoin="miter" stroke-miterlimit="10"/>
<line x1="22.70" y1="17.40" x2="22.70" y2="377.70" stroke="#000" stroke-width="2.7" />
<text transform="translate(15.20,303.50) rotate(-90)" x="-1.19" y="0" font-family="Liberation Sans" font-weight="bold" font-size="18.07" textLength="232.58" lengthAdjust="spacingAndGlyphs" fill="#111" stroke="#111" stroke-width="0.2">IDUA Activity U/mg protein</text>
<text x="31.41" y="27.00" font-family="Liberation Sans" font-weight="bold" font-size="12.14" textLength="20.73" lengthAdjust="spacingAndGlyphs" fill="#111" stroke="#111" stroke-width="0.2">450</text>
<text x="31.16" y="54.90" font-family="Liberation Sans" font-weight="bold" font-size="12.14" textLength="20.99" lengthAdjust="spacingAndGlyphs" fill="#111" stroke="#111" stroke-width="0.2">250</text>
<text x="37.91" y="83.50" font-family="Liberation Sans" font-weight="bold" font-size="11.86" textLength="14.44" lengthAdjust="spacingAndGlyphs" fill="#111" stroke="#111" stroke-width="0.2">50</text>
<text x="37.91" y="93.80" font-family="Liberation Sans" font-weight="bold" font-size="11.86" textLength="14.44" lengthAdjust="spacingAndGlyphs" fill="#111" stroke="#111" stroke-width="0.2">50</text>
<text x="38.06" y="137.40" font-family="Liberation Sans" font-weight="bold" font-size="12.00" textLength="13.88" lengthAdjust="spacingAndGlyphs" fill="#111" stroke="#111" stroke-width="0.2">25</text>
<text x="44.23" y="179.90" font-family="Liberation Sans" font-weight="bold" font-size="11.86" textLength="7.96" lengthAdjust="spacingAndGlyphs" fill="#111" stroke="#111" stroke-width="0.2">0</text>
<text x="72.54" y="40.50" font-family="Liberation Sans" font-weight="bold" font-size="15.03" textLength="49.95" lengthAdjust="spacingAndGlyphs" fill="#111" stroke="#111" stroke-width="0.2">Spleen</text>
<text x="36.21" y="206.00" font-family="Liberation Sans" font-weight="bold" font-size="11.86" textLength="14.13" lengthAdjust="spacingAndGlyphs" fill="#111" stroke="#111" stroke-width="0.2">40</text>
<text x="36.08" y="241.80" font-family="Liberation Sans" font-weight="bold" font-size="12.00" textLength="14.26" lengthAdjust="spacingAndGlyphs" fill="#111" stroke="#111" stroke-width="0.2">30</text>
<text x="36.26" y="277.80" font-family="Liberation Sans" font-weight="bold" font-size="12.00" textLength="14.08" lengthAdjust="spacingAndGlyphs" fill="#111" stroke="#111" stroke-width="0.2">20</text>
<text x="42.59" y="299.40" font-family="Liberation Sans" font-weight="bold" font-size="11.71" textLength="7.64" lengthAdjust="spacingAndGlyphs" fill="#111" stroke="#111" stroke-width="0.2">8</text>
<text x="42.81" y="328.10" font-family="Liberation Sans" font-weight="bold" font-size="12.61" textLength="7.07" lengthAdjust="spacingAndGlyphs" fill="#111" stroke="#111" stroke-width="0.2">4</text>
<text x="42.43" y="356.40" font-family="Liberation Sans" font-weight="bold" font-size="12.14" textLength="7.96" lengthAdjust="spacingAndGlyphs" fill="#111" stroke="#111" stroke-width="0.2">0</text>
<text x="68.75" y="221.20" font-family="Liberation Sans" font-weight="bold" font-size="15.45" textLength="35.08" lengthAdjust="spacingAndGlyphs" fill="#111" stroke="#111" stroke-width="0.2">Liver</text>
<text x="287.06" y="214.90" font-family="Liberation Sans" font-weight="bold" font-size="13.48" textLength="52.53" lengthAdjust="spacingAndGlyphs" fill="#111" stroke="#111" stroke-width="0.2">Unstress</text>
<text x="286.85" y="233.00" font-family="Liberation Sans" font-weight="bold" font-size="13.43" textLength="35.96" lengthAdjust="spacingAndGlyphs" fill="#111" stroke="#111" stroke-width="0.2">Stress</text>
<text x="65.91" y="386.50" font-family="Liberation Sans" font-weight="bold" font-size="12.75" textLength="22.05" lengthAdjust="spacingAndGlyphs" fill="#111" stroke="#111" stroke-width="0.2">Het</text>
<text x="99.20" y="386.30" font-family="Liberation Sans" font-weight="bold" font-size="12.28" textLength="49.42" lengthAdjust="spacingAndGlyphs" fill="#111" stroke="#111" stroke-width="0.2">MPS/WT</text>
<text x="165.52" y="369.60" font-family="Liberation Sans" font-weight="bold" font-size="12.29" textLength="34.78" lengthAdjust="spacingAndGlyphs" fill="#111" stroke="#111" stroke-width="0.2">200%</text>
<text x="217.80" y="369.60" font-family="Liberation Sans" font-weight="bold" font-size="12.29" textLength="26.76" lengthAdjust="spacingAndGlyphs" fill="#111" stroke="#111" stroke-width="0.2">10%</text>
<text x="269.37" y="369.60" font-family="Liberation Sans" font-weight="bold" font-size="12.29" textLength="18.96" lengthAdjust="spacingAndGlyphs" fill="#111" stroke="#111" stroke-width="0.2">3%</text>
<text x="316.16" y="369.60" font-family="Liberation Sans" font-weight="bold" font-size="12.29" textLength="30.77" lengthAdjust="spacingAndGlyphs" fill="#111" stroke="#111" stroke-width="0.2">0.5%</text>
<text x="227.71" y="386.50" font-family="Liberation Sans" font-weight="bold" font-size="12.14" textLength="52.41" lengthAdjust="spacingAndGlyphs" fill="#111" stroke="#111" stroke-width="0.2">MPS/GT</text>
<polygon points="60.40,87.10 67.60,83.40 67.60,88.30 60.40,92.00" fill="#fff"/>
<line x1="60.40" y1="87.10" x2="67.60" y2="83.40" stroke="#111" stroke-width="1.5" />
<line x1="60.40" y1="92.00" x2="67.60" y2="88.30" stroke="#111" stroke-width="1.5" />
<polygon points="58.20,279.40 64.70,275.10 64.70,280.00 58.20,284.70" fill="#fff"/>
<line x1="58.20" y1="279.40" x2="64.70" y2="275.10" stroke="#111" stroke-width="1.5" />
<line x1="58.20" y1="284.70" x2="64.70" y2="280.00" stroke="#111" stroke-width="1.5" />
<polyline points="393.60,24.70 399.90,14.60 406.00,24.70" fill="none" stroke="#000" stroke-width="2.7" stroke-linejoin="miter" stroke-miterlimit="10"/>
<line x1="399.90" y1="15.10" x2="399.90" y2="377.70" stroke="#000" stroke-width="2.7" />
<text transform="translate(390.00,291.00) rotate(-90)" x="-1.19" y="0" font-family="Liberation Sans" font-weight="bold" font-size="18.07" textLength="233.09" lengthAdjust="spacingAndGlyphs" fill="#111" stroke="#111" stroke-width="0.2">IDUA Activity U/mg protein</text>
<text x="408.43" y="22.20" font-family="Liberation Sans" font-weight="bold" font-size="12.14" textLength="14.36" lengthAdjust="spacingAndGlyphs" fill="#111" stroke="#111" stroke-width="0.2">16</text>
<text x="408.53" y="57.20" font-family="Liberation Sans" font-weight="bold" font-size="11.43" textLength="14.21" lengthAdjust="spacingAndGlyphs" fill="#111" stroke="#111" stroke-width="0.2">12</text>
<text x="415.19" y="92.20" font-family="Liberation Sans" font-weight="bold" font-size="11.71" textLength="7.64" lengthAdjust="spacingAndGlyphs" fill="#111" stroke="#111" stroke-width="0.2">8</text>
<text x="415.26" y="110.50" font-family="Liberation Sans" font-weight="bold" font-size="11.57" textLength="7.64" lengthAdjust="spacingAndGlyphs" fill="#111" stroke="#111" stroke-width="0.2">3</text>
<text x="415.09" y="133.20" font-family="Liberation Sans" font-weight="bold" font-size="11.43" textLength="8.11" lengthAdjust="spacingAndGlyphs" fill="#111" stroke="#111" stroke-width="0.2">2</text>
<text x="415.86" y="155.90" font-family="Liberation Sans" font-weight="bold" font-size="11.74" textLength="6.86" lengthAdjust="spacingAndGlyphs" fill="#111" stroke="#111" stroke-width="0.2">1</text>
<text x="415.03" y="179.10" font-family="Liberation Sans" font-weight="bold" font-size="11.57" textLength="7.96" lengthAdjust="spacingAndGlyphs" fill="#111" stroke="#111" stroke-width="0.2">0</text>
<text x="441.13" y="36.80" font-family="Liberation Sans" font-weight="bold" font-size="15.45" textLength="49.93" lengthAdjust="spacingAndGlyphs" fill="#111" stroke="#111" stroke-width="0.2">Kidney</text>
<polygon points="429.90,94.10 436.80,89.30 436.80,94.30 429.90,99.10" fill="#fff"/>
<line x1="429.90" y1="94.10" x2="436.80" y2="89.30" stroke="#111" stroke-width="1.5" />
<line x1="429.90" y1="99.10" x2="436.80" y2="94.30" stroke="#111" stroke-width="1.5" />
<text x="410.25" y="206.00" font-family="Liberation Sans" font-weight="bold" font-size="12.14" textLength="13.92" lengthAdjust="spacingAndGlyphs" fill="#111" stroke="#111" stroke-width="0.2">16</text>
<text x="410.25" y="241.80" font-family="Liberation Sans" font-weight="bold" font-size="12.86" textLength="13.99" lengthAdjust="spacingAndGlyphs" fill="#111" stroke="#111" stroke-width="0.2">12</text>
<text x="416.59" y="278.20" font-family="Liberation Sans" font-weight="bold" font-size="12.00" textLength="7.53" lengthAdjust="spacingAndGlyphs" fill="#111" stroke="#111" stroke-width="0.2">8</text>
<text x="416.66" y="294.60" font-family="Liberation Sans" font-weight="bold" font-size="11.43" textLength="7.53" lengthAdjust="spacingAndGlyphs" fill="#111" stroke="#111" stroke-width="0.2">3</text>
<text x="416.51" y="316.10" font-family="Liberation Sans" font-weight="bold" font-size="12.00" textLength="7.76" lengthAdjust="spacingAndGlyphs" fill="#111" stroke="#111" stroke-width="0.2">2</text>
<text x="417.30" y="337.60" font-family="Liberation Sans" font-weight="bold" font-size="11.88" textLength="6.51" lengthAdjust="spacingAndGlyphs" fill="#111" stroke="#111" stroke-width="0.2">1</text>
<text x="416.75" y="359.30" font-family="Liberation Sans" font-weight="bold" font-size="11.29" textLength="7.61" lengthAdjust="spacingAndGlyphs" fill="#111" stroke="#111" stroke-width="0.2">0</text>
<text x="443.75" y="217.60" font-family="Liberation Sans" font-weight="bold" font-size="14.78" textLength="41.34" lengthAdjust="spacingAndGlyphs" fill="#111" stroke="#111" stroke-width="0.2">Heart</text>
<polygon points="431.40,278.30 438.40,273.70 438.40,278.70 431.40,283.30" fill="#fff"/>
<line x1="431.40" y1="278.30" x2="438.40" y2="273.70" stroke="#111" stroke-width="1.5" />
<line x1="431.40" y1="283.30" x2="438.40" y2="278.70" stroke="#111" stroke-width="1.5" />
<text x="438.62" y="386.50" font-family="Liberation Sans" font-weight="bold" font-size="12.75" textLength="21.84" lengthAdjust="spacingAndGlyphs" fill="#111" stroke="#111" stroke-width="0.2">Het</text>
<text x="471.70" y="386.10" font-family="Liberation Sans" font-weight="bold" font-size="12.00" textLength="49.42" lengthAdjust="spacingAndGlyphs" fill="#111" stroke="#111" stroke-width="0.2">MPS/WT</text>
<text x="537.33" y="369.60" font-family="Liberation Sans" font-weight="bold" font-size="12.29" textLength="34.58" lengthAdjust="spacingAndGlyphs" fill="#111" stroke="#111" stroke-width="0.2">200%</text>
<text x="588.77" y="369.60" font-family="Liberation Sans" font-weight="bold" font-size="12.29" textLength="27.59" lengthAdjust="spacingAndGlyphs" fill="#111" stroke="#111" stroke-width="0.2">10%</text>
<text x="640.46" y="369.60" font-family="Liberation Sans" font-weight="bold" font-size="12.29" textLength="19.37" lengthAdjust="spacingAndGlyphs" fill="#111" stroke="#111" stroke-width="0.2">3%</text>
<text x="686.75" y="369.60" font-family="Liberation Sans" font-weight="bold" font-size="12.29" textLength="31.08" lengthAdjust="spacingAndGlyphs" fill="#111" stroke="#111" stroke-width="0.2">0.5%</text>
<text x="600.31" y="386.20" font-family="Liberation Sans" font-weight="bold" font-size="12.00" textLength="52.61" lengthAdjust="spacingAndGlyphs" fill="#111" stroke="#111" stroke-width="0.2">MPS/GT</text>
</svg></body></html>
